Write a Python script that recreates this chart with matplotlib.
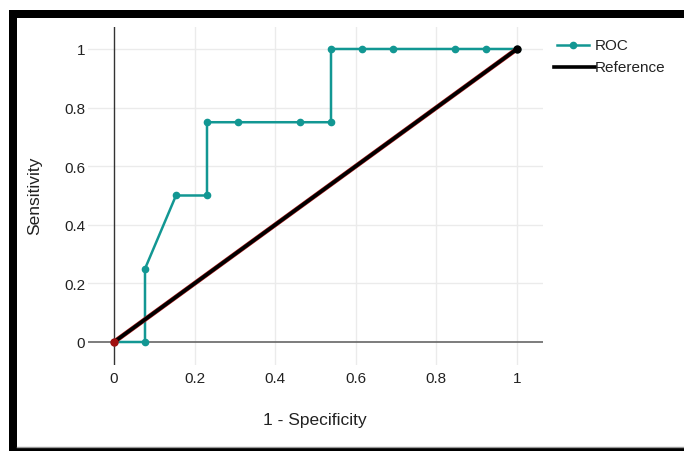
import matplotlib
matplotlib.use("Agg")
import matplotlib.pyplot as plt
from matplotlib.lines import Line2D
from matplotlib.patches import Rectangle

plt.rcParams['font.family'] = ['Liberation Sans', 'DejaVu Sans']

# ROC data (13 negatives, 4 positives)
fpr = [0, 1/13, 1/13, 2/13, 3/13, 3/13, 4/13, 6/13, 7/13, 7/13, 8/13, 9/13, 11/13, 12/13, 1]
tpr = [0, 0, 0.25, 0.5, 0.5, 0.75, 0.75, 0.75, 0.75, 1, 1, 1, 1, 1, 1]
ref_x = [0, 1]
ref_y = [0, 1]
ticks = [0, 0.2, 0.4, 0.6, 0.8, 1]
tick_labels = ['0', '0.2', '0.4', '0.6', '0.8', '1']

W, H = 684, 452
fig = plt.figure(figsize=(W / 100, H / 100), dpi=100)

def fx(px):
    return px / W

def fy(py):
    return 1 - py / H

ax = fig.add_axes([fx(88), fy(366), fx(543) - fx(88), fy(28) - fy(366)])
ax.set_xlim(-0.0645, 1.0645)
ax.set_ylim(-0.0785, 1.075)
for s in ax.spines.values():
    s.set_visible(False)

grid_c = '#ebebeb'
for t in ticks[1:]:
    ax.axhline(t, color=grid_c, lw=1, zorder=0)
    ax.axvline(t, color=grid_c, lw=1, zorder=0)
ax.axhline(0, color='#666666', lw=1.2, zorder=1)
ax.axvline(0, color='#333333', lw=1, zorder=1)

ax.set_xticks(ticks)
ax.set_xticklabels(tick_labels)
ax.set_yticks(ticks)
ax.set_yticklabels(tick_labels)
ax.tick_params(length=0, labelsize=11, colors='#222222')
ax.tick_params(axis='x', pad=4)
ax.tick_params(axis='y', pad=2)

teal = '#129793'
ax.plot(ref_x, ref_y, color='#b02020', lw=3.4, zorder=3, solid_capstyle='round')
ax.plot(ref_x, ref_y, color='black', lw=2.6, zorder=4, solid_capstyle='round')
ax.plot(fpr, tpr, color=teal, lw=1.8, marker='o', markersize=4.5, zorder=2)
ax.plot([ref_x[0]], [ref_y[0]], 'o', color='#a01010', markersize=5, zorder=5)
ax.plot([ref_x[1]], [ref_y[1]], 'o', color='black', markersize=5, zorder=5)

fig.text(fx(315), fy(421), '1 - Specificity', ha='center', va='center', fontsize=12.5, color='#222222')
fig.text(fx(35), fy(196), 'Sensitivity', ha='center', va='center', rotation=90, fontsize=12.5, color='#222222')

# legend
fig.add_artist(Line2D([fx(557), fx(589)], [fy(46), fy(46)], color=teal, lw=1.8,
                      transform=fig.transFigure))
fig.add_artist(Line2D([fx(573)], [fy(46)], marker='o', markersize=4.5, color=teal,
                      transform=fig.transFigure))
fig.text(fx(595), fy(46), 'ROC', ha='left', va='center', fontsize=11, color='#222222')
fig.add_artist(Line2D([fx(554), fx(595)], [fy(68), fy(68)], color='black', lw=2.6,
                      transform=fig.transFigure))
fig.text(fx(595), fy(68), 'Reference', ha='left', va='center', fontsize=11, color='#222222')

# frame of the screenshot
fig.add_artist(Rectangle((fx(9), fy(452)), fx(8), fy(11) - fy(452), color='black',
                         transform=fig.transFigure, lw=0))
fig.add_artist(Rectangle((fx(9), fy(19)), 1 - fx(9), fy(11) - fy(19), color='black',
                         transform=fig.transFigure, lw=0))
fig.add_artist(Rectangle((fx(9), fy(452)), 1 - fx(9), fy(449) - fy(452), color='black',
                         transform=fig.transFigure, lw=0))
fig.add_artist(Line2D([fx(17), 1], [fy(447.5), fy(447.5)], color='#999999', lw=1,
                      transform=fig.transFigure))

fig.savefig('out.png', dpi=100)
